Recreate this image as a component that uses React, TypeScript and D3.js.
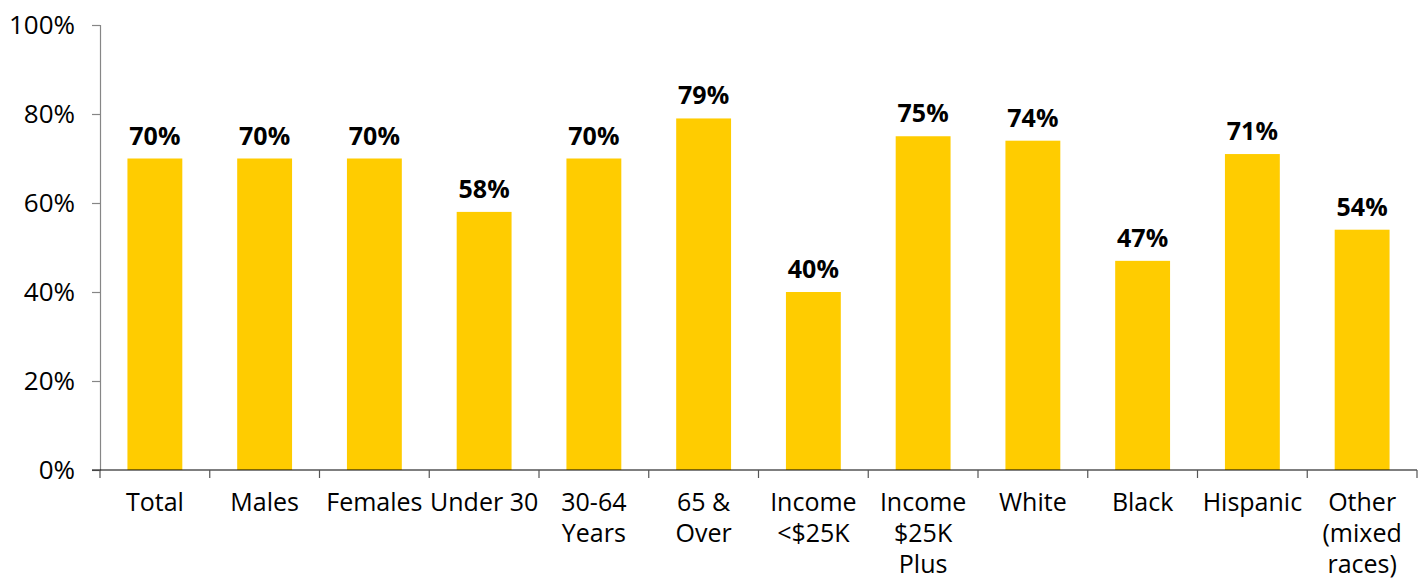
import { useEffect, useRef } from "react";
import * as d3 from "d3";

const categories = [
  ["Total"],
  ["Males"],
  ["Females"],
  ["Under 30"],
  ["30-64", "Years"],
  ["65 &", "Over"],
  ["Income", "<$25K"],
  ["Income", "$25K", "Plus"],
  ["White"],
  ["Black"],
  ["Hispanic"],
  ["Other", "(mixed", "races)"],
];
const values = [70, 70, 70, 58, 70, 79, 40, 75, 74, 47, 71, 54];
const yTicks = [0, 20, 40, 60, 80, 100];

const WIDTH = 1425;
const HEIGHT = 581;
const FONT = "'Open Sans', 'Noto Sans', sans-serif";

export default function App() {
  const svgRef = useRef<SVGSVGElement | null>(null);

  useEffect(() => {
    if (!svgRef.current) return;
    const svg = d3.select(svgRef.current);
    svg.selectAll("*").remove();

    const margin = { top: 25, right: 8, bottom: 111, left: 100 };
    const chartW = WIDTH - margin.left - margin.right;
    const chartH = HEIGHT - margin.top - margin.bottom;

    const g = svg.append("g").attr("transform", `translate(${margin.left},${margin.top})`);

    const x = d3.scaleBand<number>()
      .domain(d3.range(categories.length))
      .range([0, chartW])
      .paddingInner(0.5)
      .paddingOuter(0.25);
    const step = x.step();

    const y = d3.scaleLinear().domain([0, 100]).range([chartH, 0]);

    // y axis
    const yAxis = g.append("g").call(
      d3.axisLeft(y)
        .tickValues(yTicks)
        .tickSize(8)
        .tickPadding(17)
        .tickFormat(d => `${d}%`)
    );
    yAxis.select(".domain").attr("stroke", "#868686").attr("stroke-width", 1.2);
    yAxis.selectAll("line").attr("stroke", "#868686").attr("stroke-width", 1.2);
    yAxis.selectAll("text")
      .attr("fill", "#000")
      .attr("font-size", "26px")
      .attr("font-family", FONT);

    // bars
    g.selectAll(".bar")
      .data(values)
      .enter()
      .append("rect")
      .attr("x", (_, i) => x(i)!)
      .attr("y", d => y(d))
      .attr("width", x.bandwidth())
      .attr("height", d => chartH - y(d))
      .attr("fill", "#FFCC00");

    // value labels
    g.selectAll(".val")
      .data(values)
      .enter()
      .append("text")
      .attr("x", (_, i) => x(i)! + x.bandwidth() / 2)
      .attr("y", d => y(d) - 14)
      .attr("text-anchor", "middle")
      .attr("font-size", "25px")
      .attr("font-weight", "bold")
      .attr("font-family", FONT)
      .attr("fill", "#000")
      .text(d => `${d}%`);

    // x axis line + ticks at category boundaries
    const xa = g.append("g").attr("transform", `translate(0,${chartH})`);
    xa.append("line")
      .attr("x1", -8)
      .attr("x2", chartW)
      .attr("stroke", "#000")
      .attr("stroke-width", 1.2);
    xa.selectAll(".tick")
      .data(d3.range(categories.length + 1))
      .enter()
      .append("line")
      .attr("x1", i => i * step)
      .attr("x2", i => i * step)
      .attr("y1", 0)
      .attr("y2", 8)
      .attr("stroke", "#555")
      .attr("stroke-width", 1.2);

    // category labels
    const labels = xa.selectAll(".cat")
      .data(categories)
      .enter()
      .append("text")
      .attr("text-anchor", "middle")
      .attr("font-size", "25px")
      .attr("font-family", FONT)
      .attr("fill", "#000")
      .attr("transform", (_, i) => `translate(${x(i)! + x.bandwidth() / 2},41)`);
    labels.selectAll("tspan")
      .data(d => d)
      .enter()
      .append("tspan")
      .attr("x", 0)
      .attr("y", (_, j) => j * 31)
      .text(d => d);
  }, []);

  return (
    <svg
      ref={svgRef}
      width={WIDTH}
      height={HEIGHT}
      style={{ position: "fixed", top: 0, left: 0, background: "#fff", display: "block" }}
    />
  );
}
